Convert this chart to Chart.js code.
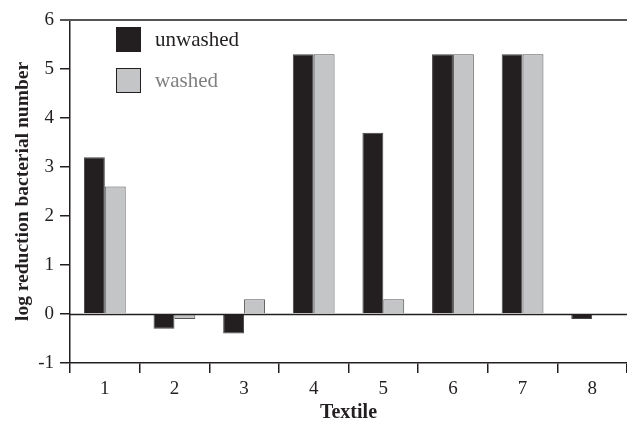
<!DOCTYPE html>
<html>
<head>
<meta charset="utf-8">
<script src="https://cdn.jsdelivr.net/npm/chart.js@4/dist/chart.umd.min.js"></script>
<style>
  html, body { margin: 0; padding: 0; background: #fff; }
  #wrap { width: 627px; height: 422px; }
</style>
</head>
<body>
<div id="wrap"><canvas id="c" width="627" height="422"></canvas></div>
<script>
// Log reduction of bacterial number per textile, before and after washing
const textiles = ['1', '2', '3', '4', '5', '6', '7', '8'];
const unwashed = [3.2, -0.3, -0.4, 5.3, 3.7, 5.3, 5.3, -0.1];
const washed   = [2.6, -0.1, 0.3, 5.3, 0.3, 5.3, 5.3, 0];
const yTicks   = [-1, 0, 1, 2, 3, 4, 5, 6];

const SERIF = "'Liberation Serif', 'Times New Roman', serif";
const DARK = '#231f20';
const GREY = '#c4c5c7';

// Frame lines: top border and the zero baseline
const framePlugin = {
  id: 'frame',
  afterDatasetsDraw(chart) {
    const { ctx, chartArea, scales } = chart;
    ctx.save();
    ctx.strokeStyle = '#555';
    ctx.lineWidth = 2;
    ctx.beginPath();
    ctx.moveTo(chartArea.left - 10, chartArea.top);
    ctx.lineTo(chartArea.right, chartArea.top);
    ctx.stroke();
    const y0 = Math.round(scales.y.getPixelForValue(0)) + 0.5;
    ctx.strokeStyle = DARK;
    ctx.lineWidth = 1.5;
    ctx.beginPath();
    ctx.moveTo(chartArea.left, y0);
    ctx.lineTo(chartArea.right, y0);
    ctx.stroke();
    ctx.restore();
  }
};

// Legend drawn inside the plot, top-left
const insideLegend = {
  id: 'insideLegend',
  afterDraw(chart) {
    const { ctx } = chart;
    const items = [
      { ds: chart.data.datasets[0], y: 27, text: DARK },
      { ds: chart.data.datasets[1], y: 68, text: '#808080' }
    ];
    ctx.save();
    ctx.font = '21px ' + SERIF;
    ctx.textBaseline = 'middle';
    items.forEach(it => {
      ctx.fillStyle = it.ds.backgroundColor;
      ctx.fillRect(116, it.y, 25, 25);
      ctx.strokeStyle = DARK;
      ctx.lineWidth = 1;
      ctx.strokeRect(116.5, it.y + 0.5, 24, 24);
      ctx.fillStyle = it.text;
      ctx.fillText(it.ds.label, 155, it.y + 13);
    });
    ctx.restore();
  }
};

new Chart(document.getElementById('c'), {
  type: 'bar',
  data: {
    labels: textiles,
    datasets: [
      { label: 'unwashed', data: unwashed, backgroundColor: DARK, borderColor: '#444', borderWidth: 1 },
      { label: 'washed', data: washed, backgroundColor: GREY, borderColor: '#555', borderWidth: 1 }
    ]
  },
  options: {
    responsive: false,
    animation: false,
    devicePixelRatio: 1,
    layout: { padding: { top: 20, right: 0, left: 0, bottom: 0 } },
    datasets: { bar: { barPercentage: 1, categoryPercentage: 0.6 } },
    plugins: { legend: { display: false }, tooltip: { enabled: false } },
    scales: {
      x: {
        offset: true,
        afterFit(s) { s.height = 59; },
        grid: { offset: true, drawOnChartArea: false, tickLength: 10, color: DARK, lineWidth: 1.5 },
        border: { display: true, color: DARK, width: 1.5 },
        ticks: { color: DARK, font: { family: SERIF, size: 19 }, padding: 5 },
        title: { display: true, text: 'Textile', color: DARK, font: { family: SERIF, size: 20, weight: 'bold', lineHeight: 0.9 }, padding: { top: 0, bottom: 0 } }
      },
      y: {
        min: -1,
        max: 6,
        afterFit(s) { s.width = 70; },
        afterBuildTicks(s) { s.ticks = yTicks.map(v => ({ value: v })); },
        grid: { drawOnChartArea: false, tickLength: 10, color: DARK, lineWidth: 1.5 },
        border: { display: true, color: DARK, width: 1.5 },
        ticks: { color: DARK, font: { family: SERIF, size: 19 }, padding: 6 },
        title: { display: true, text: 'log reduction bacterial number', color: DARK, font: { family: SERIF, size: 19.5, weight: 'bold' }, padding: { top: 11, bottom: 0 } }
      }
    }
  },
  plugins: [framePlugin, insideLegend]
});
</script>
</body>
</html>
